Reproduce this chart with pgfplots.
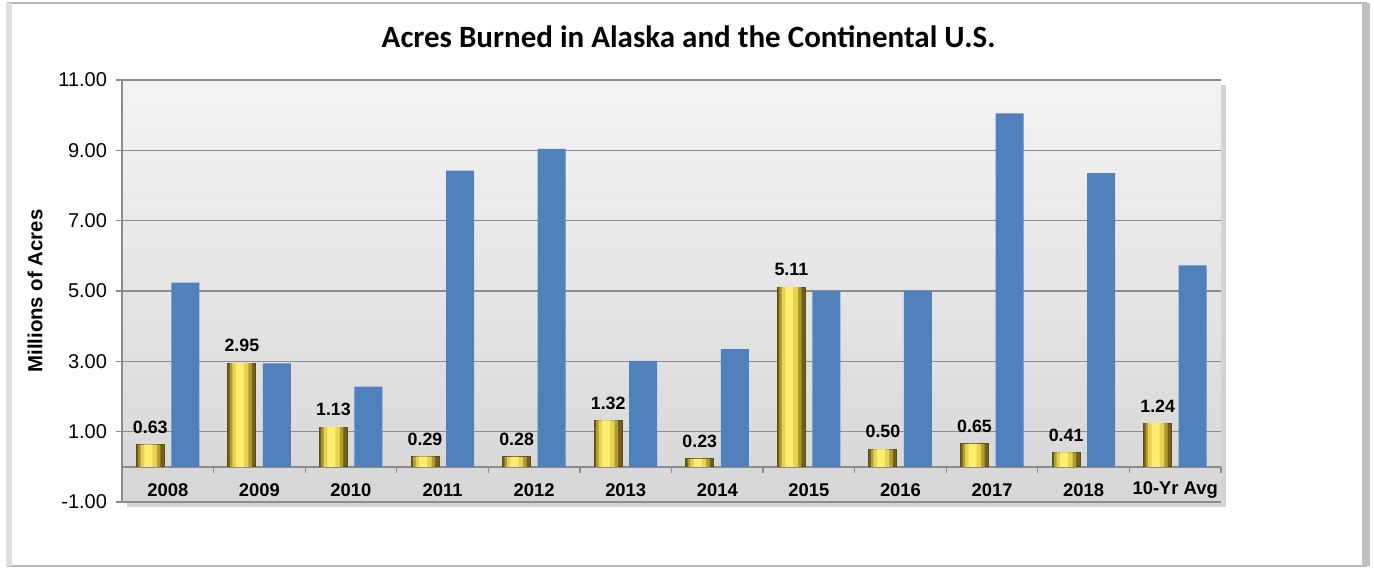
\documentclass[border=0pt]{standalone}
\usepackage{pgfplots}
\usepackage{pgfplotstable}
\pgfplotsset{compat=1.18}
\usepackage{fontspec}
\setmainfont{Liberation Sans}
\newfontfamily\titlefont{Carlito}
\usetikzlibrary{shadows}
\definecolor{usblue}{RGB}{79,129,189}
\definecolor{goldA}{RGB}{112,96,26}
\definecolor{goldB}{RGB}{175,155,48}
\definecolor{goldC}{RGB}{232,210,78}
\definecolor{goldD}{RGB}{255,238,110}
\definecolor{goldedge}{RGB}{90,78,20}
\definecolor{bgtop}{RGB}{243,243,243}
\definecolor{bgbot}{RGB}{214,214,214}
\definecolor{gridc}{RGB}{140,140,140}

\pgfplotstableread{
x alaska
0 0.63
1 2.95
2 1.13
3 0.29
4 0.28
5 1.32
6 0.23
7 5.11
8 0.50
9 0.65
10 0.41
11 1.24
}\alaska
\pgfplotstableread{
x us
0 5.24
1 2.94
2 2.28
3 8.42
4 9.04
5 3.01
6 3.35
7 5.00
8 5.01
9 10.05
10 8.35
11 5.73
}\continental

\begin{document}
\begin{tikzpicture}
\path[use as bounding box] (-61pt,-33.5pt) rectangle (626pt,251pt);
\draw[gray!55, line width=1pt] (-57pt,-32pt) rectangle (622pt,249.5pt);
\fill[gray!50] (620pt,-32pt) rectangle (624pt,249.5pt);
\fill[gray!25] (-58pt,-32pt) rectangle (-55pt,249.5pt);
\begin{axis}[
  at={(0,0)}, anchor=south west,
  scale only axis, width=549.5pt, height=211pt,
  xmin=-0.5, xmax=11.5, ymin=-1, ymax=11,
  ybar, bar width=14pt,
  axis x line*=bottom, axis y line*=left,
  x axis line style={draw=none},
  y axis line style={draw=gridc, line width=0.8pt},
  axis background/.style={top color=bgtop, bottom color=bgbot,
     drop shadow={shadow xshift=2.5pt, shadow yshift=-2.5pt, opacity=0.35}},
  xtick={0,...,11},
  xticklabels={2008,2009,2010,2011,2012,2013,2014,2015,2016,2017,2018,10-Yr Avg},
  x tick style={draw=none},
  xticklabel style={font=\fontsize{9.2}{10}\selectfont\bfseries, anchor=center, yshift=9pt},
  ytick={-1,1,3,5,7,9,11},
  ymajorgrids,
  grid style={gridc, line width=0.8pt},
  tick align=outside,
  major tick length=3pt,
  y tick style={gridc, line width=0.6pt},
  yticklabel style={font=\fontsize{10}{12}\selectfont, xshift=-1pt},
  /pgf/number format/assume math mode=true,
  yticklabel={\pgfmathprintnumber[fixed,fixed zerofill,precision=2]{\tick}},
  ylabel={Millions of Acres},
  ylabel style={font=\fontsize{10.2}{12}\selectfont\bfseries, at={(axis description cs:-0.0792,0.5)}, anchor=center},
  title={\titlefont\bfseries Acres Burned in Alaska and the Continental U.S.},
  title style={font=\fontsize{15.5}{18}\selectfont, at={(axis description cs:0.5155,1.0735)}, anchor=center},
  clip=false,
]
\draw[gridc, line width=0.8pt] (axis cs:-0.5,0) -- (axis cs:11.5,0);
\pgfplotsinvokeforeach{0.5,1.5,2.5,3.5,4.5,5.5,6.5,7.5,8.5,9.5,10.5,11.5}{
  \draw[gridc, line width=0.6pt] (axis cs:#1,0) -- ([yshift=-3pt]axis cs:#1,0);
}
% Alaska: layered bars give the bevelled gold look
\addplot[bar shift=-8.75pt, bar width=14pt, draw=goldedge, line width=0.5pt, fill=goldA,
  nodes near coords={\pgfmathprintnumber[fixed,fixed zerofill,precision=2,assume math mode=true]{\pgfplotspointmeta}},
  nodes near coords style={font=\fontsize{8.9}{10}\selectfont\bfseries, yshift=2pt, text=black}]
  table[x=x, y=alaska] {\alaska};
\addplot[bar shift=-9.25pt, bar width=11pt, draw=none, fill=goldB] table[x=x, y=alaska] {\alaska};
\addplot[bar shift=-9.5pt, bar width=8pt, draw=none, fill=goldC] table[x=x, y=alaska] {\alaska};
\addplot[bar shift=-9.75pt, bar width=4pt, draw=none, fill=goldD] table[x=x, y=alaska] {\alaska};
% Continental U.S.
\addplot[bar shift=8.75pt, bar width=14pt, draw=none, fill=usblue] table[x=x, y=us] {\continental};
\end{axis}
\end{tikzpicture}
\end{document}
